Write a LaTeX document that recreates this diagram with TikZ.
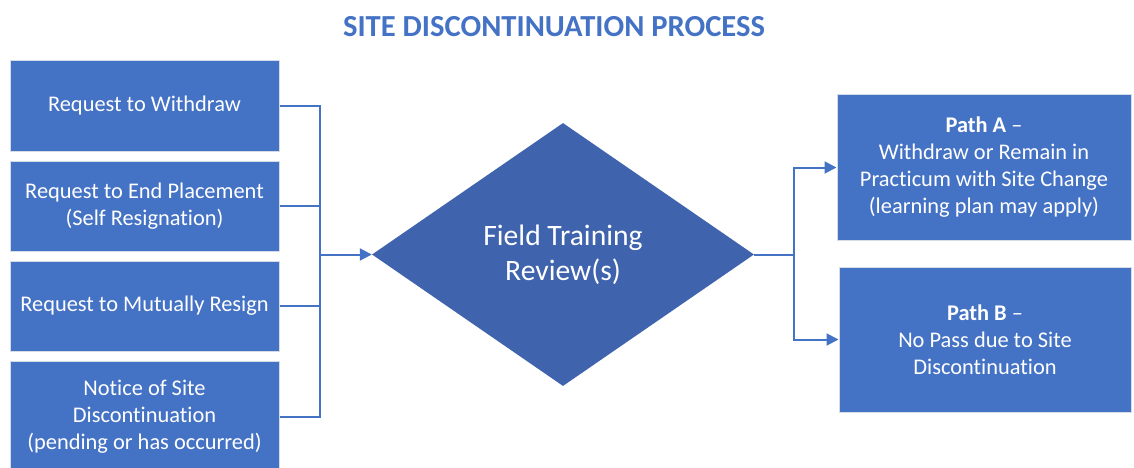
\documentclass[tikz,border=0pt]{standalone}
\usepackage{fontspec}
\setmainfont{Carlito}[Ligatures={TeX,NoCommon}]
\usetikzlibrary{shapes.geometric,arrows.meta}
\definecolor{boxblue}{HTML}{4472C4}
\definecolor{diablue}{HTML}{3F63AD}
\definecolor{edgegray}{HTML}{D6DCE5}
\tikzset{
  stepbox/.style={rectangle, fill=boxblue, draw=edgegray, line width=1pt, text=white, align=center, inner sep=0pt, font=\fontsize{22.4}{27}\selectfont},
  conn/.style={draw=boxblue, line width=2pt},
  arr/.style={conn, -{Triangle[length=12pt,width=12pt]}}
}
\begin{document}
\begin{tikzpicture}[x=1pt,y=-1pt]
\useasboundingbox (0,0) rectangle (1134,468);
\clip (0,0) rectangle (1134,468);
\node[text=boxblue, font=\fontsize{30.6}{34}\selectfont\bfseries] (title) at (554,27) {SITE DISCONTINUATION PROCESS};
\node[stepbox, minimum width=269pt, minimum height=90pt] (b1) at (144.5,106) {Request to Withdraw};
\node[stepbox, minimum width=269pt, minimum height=90pt] (b2) at (144.5,206) {Request to End Placement\\(Self Resignation)};
\node[stepbox, minimum width=269pt, minimum height=90pt] (b3) at (144.5,306) {Request to Mutually Resign};
\node[stepbox, minimum width=269pt, minimum height=112pt] (b4) at (144.5,417) {Notice of Site\\Discontinuation\\(pending or has occurred)};
\node[diamond, fill=diablue, text=white, inner sep=0pt, aspect=1.452, minimum width=382pt, minimum height=263pt, align=center, font=\fontsize{29.6}{35}\selectfont] (dia) at (563,254.5) {Field Training\\Review(s)};
\node[stepbox, minimum width=294pt, minimum height=145pt] (pa) at (984,167.5) {\textbf{Path A} –\\Withdraw or Remain in\\Practicum with Site Change\\(learning plan may apply)};
\node[stepbox, minimum width=292pt, minimum height=145pt] (pb) at (985,339.5) {\textbf{Path B} –\\No Pass due to Site\\Discontinuation};
\coordinate (bus) at (320,254.5);
\coordinate (rb) at (794,254.5);
\draw[conn] (b1.east) -| (bus);
\draw[conn] (b2.east) -| (bus);
\draw[conn] (b3.east) -| (bus);
\draw[conn] (b4.east) -| (bus);
\draw[arr] (bus) -- (dia.west);
\draw[conn] (dia.east) -- (rb);
\draw[arr] (rb) |- (pa.west);
\draw[arr] (rb) |- (pb.west);
\end{tikzpicture}
\end{document}
